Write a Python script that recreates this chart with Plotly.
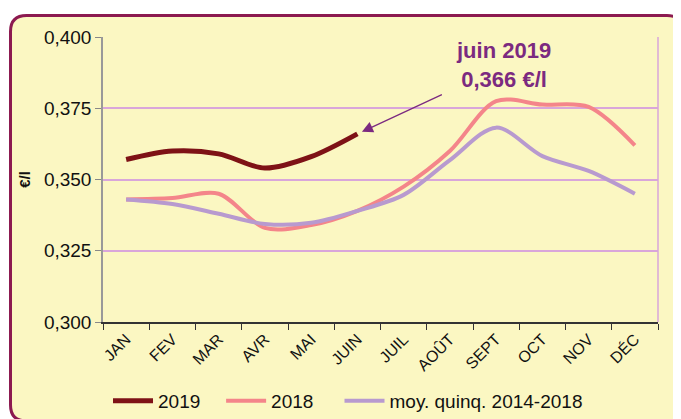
import plotly.graph_objects as go

months = ["JAN", "FEV", "MAR", "AVR", "MAI", "JUIN", "JUIL", "AOÛT", "SEPT", "OCT", "NOV", "DÉC"]
y2019 = [0.357, 0.360, 0.359, 0.354, 0.358, 0.366]
y2018 = [0.343, 0.3435, 0.345, 0.333, 0.334, 0.339, 0.3475, 0.360, 0.3775, 0.3763, 0.3755, 0.362]
ymoy = [0.343, 0.3414, 0.338, 0.3344, 0.3348, 0.339, 0.3446, 0.3568, 0.3682, 0.3582, 0.353, 0.345]
yticks = [0.300, 0.325, 0.350, 0.375, 0.400]
series_names = ["2019", "2018", "moy. quinq. 2014-2018"]

# page body has an 8px margin: work in screen pixels and shift
OFF = 8
W, H = 681, 419
L, T = 103 - OFF, 37 - OFF
R = W - (658 - OFF)
B = H - (322 - OFF)
PW, PH = W - L - R, H - T - B

def px(x):  # screen x -> paper
    return (x - OFF - L) / PW

def py(y):  # screen y -> paper
    return (H - B - (y - OFF)) / PH

def cx(x):  # screen x -> container
    return (x - OFF) / W

def cy(y):  # screen y -> container
    return 1 - (y - OFF) / H

def rounded_rect(x0, y0, x1, y1, r):
    return (f"M {px(x0 + r)} {py(y0)} L {px(x1 - r)} {py(y0)} "
            f"Q {px(x1)} {py(y0)} {px(x1)} {py(y0 + r)} "
            f"L {px(x1)} {py(y1 - r)} Q {px(x1)} {py(y1)} {px(x1 - r)} {py(y1)} "
            f"L {px(x0 + r)} {py(y1)} Q {px(x0)} {py(y1)} {px(x0)} {py(y1 - r)} "
            f"L {px(x0)} {py(y0 + r)} Q {px(x0)} {py(y0)} {px(x0 + r)} {py(y0)} Z")

FONT = "Liberation Sans, Arial, sans-serif"
BG = "#FBF7C2"
INK = "#111111"
NB = "\u00a0"  # extra spacing between legend entries

fig = go.Figure()
fig.add_trace(go.Scatter(x=months[:len(y2019)], y=y2019, name=series_names[0] + NB * 3, mode="lines",
                         line=dict(color="#7E1216", width=5, shape="spline", smoothing=0.9)))
fig.add_trace(go.Scatter(x=months, y=y2018, name=series_names[1] + NB * 4, mode="lines",
                         line=dict(color="#F4858A", width=4, shape="spline", smoothing=0.9)))
fig.add_trace(go.Scatter(x=months, y=ymoy, name=series_names[2], mode="lines",
                         line=dict(color="#B89ACF", width=4, shape="spline", smoothing=0.9)))

fig.add_shape(type="path", xref="paper", yref="paper", layer="below",
              path=rounded_rect(10.5, 15.5, 683, 421, 16),
              line=dict(color="#8C1A50", width=3), fillcolor=BG)

fig.add_annotation(x="JUIN", y=0.366, xref="x", yref="y", text="", showarrow=True,
                   arrowhead=2, arrowsize=1.7, arrowwidth=1.3, arrowcolor="#7B2A80",
                   ax=86, ay=-40, standoff=5)
fig.add_annotation(x=px(503), y=py(65), xref="paper", yref="paper",
                   xanchor="center", yanchor="middle",
                   text="juin 2019<br>0,366 €/l", showarrow=False,
                   font=dict(family=FONT, size=22, color="#7B2A80", weight="bold"),
                   align="center")

fig.update_layout(
    width=W, height=H,
    margin=dict(l=L, r=R, t=T, b=B, autoexpand=False),
    paper_bgcolor="white", plot_bgcolor=BG,
    separators=", ",
    font=dict(family=FONT, size=15, color=INK),
    showlegend=True,
    legend=dict(orientation="h", xref="container", yref="container",
                x=cx(108), y=cy(401), xanchor="left", yanchor="middle",
                bgcolor="rgba(0,0,0,0)", font=dict(family=FONT, size=19, color=INK),
                itemwidth=40, tracegroupgap=0),
)
fig.update_xaxes(type="category", categoryorder="array", categoryarray=months,
                 range=[-0.5, 11.5], tickangle=-45, tickson="boundaries",
                 ticks="outside", ticklen=6, tickcolor="#333333",
                 showline=True, linecolor="#333333", linewidth=1.5,
                 mirror=False, showgrid=False, automargin=False,
                 tickfont=dict(family=FONT, size=16, color=INK))
fig.update_yaxes(range=[0.300, 0.400], tickvals=yticks, tickformat=".3f",
                 ticks="outside", ticklen=6, tickcolor="#888888",
                 showline=True, linecolor="#999999", linewidth=1.5,
                 gridcolor="#D9A6DA", gridwidth=1.5, zeroline=False, automargin=False,
                 tickfont=dict(family=FONT, size=19, color=INK),
                 title=dict(text="<b>€/l</b>", font=dict(family=FONT, size=15, color=INK), standoff=10))
fig.add_shape(type="line", xref="paper", yref="paper", x0=1, x1=1, y0=0, y1=1,
              line=dict(color="#D9A6DA", width=1.5))

fig.write_html("out.html")
